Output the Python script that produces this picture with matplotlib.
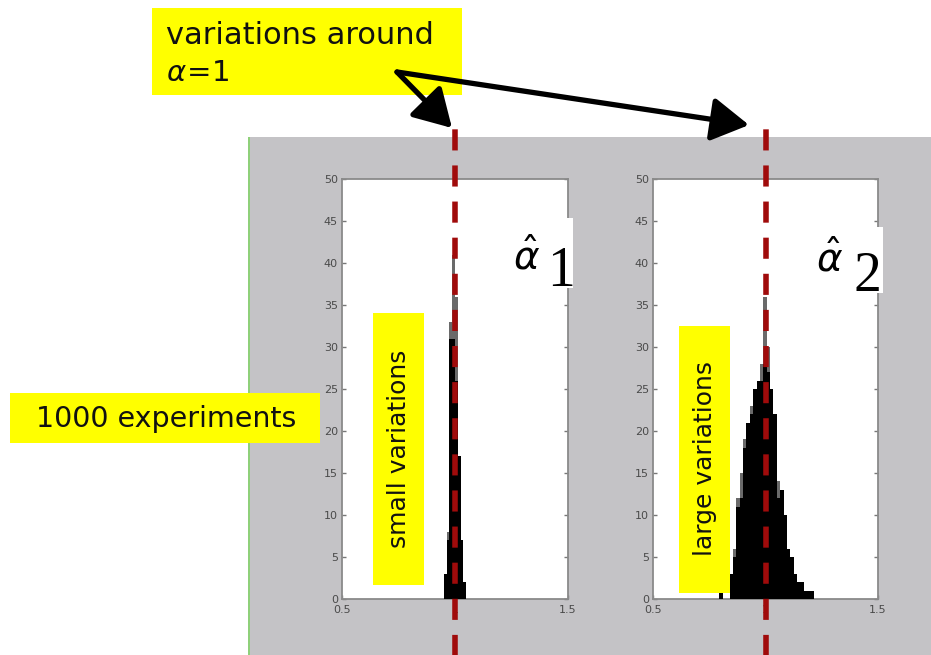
import numpy as np
import matplotlib
matplotlib.use("Agg")
import matplotlib.pyplot as plt
from matplotlib.patches import Rectangle, FancyArrowPatch

# ---------------- data ----------------
yticks = [0, 5, 10, 15, 20, 25, 30, 35, 40, 45, 50]
xticks = [0.5, 1, 1.5]
xtick_labels = ["0.5", "1", "1.5"]
true_value = 1.0

# estimator 1 (small variations): bin edges and counts
left_edges = [0.95, 0.9625, 0.975, 0.9875, 1.0, 1.0125, 1.025, 1.0375, 1.05]
left_core = [3, 7, 31, 31, 26, 17, 7, 2]
left_fringe = [3, 8, 33, 41, 36, 17, 7, 2]

# estimator 2 (large variations)
right_edges = [0.795, 0.81, 0.825, 0.84, 0.855, 0.87, 0.885, 0.90, 0.915, 0.93,
               0.945, 0.96, 0.975, 0.99, 1.005, 1.02, 1.035, 1.05, 1.065, 1.08,
               1.095, 1.11, 1.125, 1.14, 1.155, 1.17, 1.185, 1.20, 1.215]
right_core = [1, 0, 0, 3, 5, 11, 12, 18, 21, 22, 25, 26, 26, 28, 27, 25, 22,
              12, 13, 10, 6, 5, 3, 2, 2, 1, 1, 1]
right_fringe = [1, 0, 0, 3, 6, 12, 15, 19, 21, 23, 25, 26, 28, 36, 30, 25, 22,
                14, 13, 10, 6, 5, 3, 2, 2, 1, 1, 1]

W, H = 931, 655
fig = plt.figure(figsize=(W / 100, H / 100), dpi=100)
fig.patch.set_facecolor("white")

# background layer (pixel coords)
bg = fig.add_axes([0, 0, 1, 1], zorder=-5)
bg.set_xlim(0, W)
bg.set_ylim(H, 0)
bg.axis("off")
bg.add_patch(Rectangle((249, 137), W - 249, H - 137, facecolor="#c4c3c6",
                       edgecolor="none"))
bg.add_patch(Rectangle((248, 137), 2, H - 137, facecolor="#8fd07a",
                       edgecolor="none"))


def make_axes(left_px, right_px, edges, core, fringe):
    ax = fig.add_axes([left_px / W, (H - 599) / H, (right_px - left_px) / W, 420 / H],
                      zorder=1)
    ax.set_facecolor("white")
    e = np.array(edges)
    widths = np.diff(e)
    ax.bar(e[:-1], fringe, width=widths, align="edge", color="#6a6a6a",
           edgecolor="none", zorder=2)
    ax.bar(e[:-1], core, width=widths, align="edge", color="black",
           edgecolor="none", zorder=3)
    ax.axvline(true_value, ymin=-0.135, ymax=1.125, clip_on=False,
               color="#a00b0b", lw=4, dashes=(3.8, 2.7), zorder=5)
    ax.set_xlim(0.5, 1.5)
    ax.set_ylim(0, 50)
    ax.set_yticks(yticks)
    ax.set_xticks(xticks)
    ax.set_xticklabels(xtick_labels)
    ax.tick_params(direction="in", length=3, width=1, colors="#777777",
                   labelcolor="#4a4a4a", labelsize=8, right=True, top=False)
    ax.tick_params(axis="y", pad=3)
    ax.tick_params(axis="x", pad=4)
    for s in ax.spines.values():
        s.set_color("#8a8a8a")
        s.set_linewidth(1.3)
    return ax


ax1 = make_axes(342, 568, left_edges, left_core, left_fringe)
ax2 = make_axes(653, 878, right_edges, right_core, right_fringe)

# overlay in pixel coordinates for annotations
ov = fig.add_axes([0, 0, 1, 1], facecolor="none", zorder=10)
ov.set_xlim(0, W)
ov.set_ylim(H, 0)
ov.axis("off")

YEL = "#ffff00"


def ybox(x0, y0, x1, y1, color=YEL):
    ov.add_patch(Rectangle((x0, y0), x1 - x0, y1 - y0, facecolor=color,
                           edgecolor="none", zorder=1))


# top box
ybox(152, 8, 462, 95)
ov.text(166, 35, "variations around", fontsize=22, color="#111111",
        va="center", ha="left", family="DejaVu Sans")
ov.text(166, 73, r"$\alpha\!=\!1$", fontsize=21, color="#111111",
        va="center", ha="left")

# 1000 experiments
ybox(10, 393, 320, 443)
ov.text(166, 419, "1000 experiments", fontsize=20.5, color="#111111",
        va="center", ha="center", family="DejaVu Sans")

# vertical labels
ybox(373, 313, 424, 585)
ov.text(399, 449, "small variations", fontsize=18, color="#111111",
        va="center", ha="center", rotation=90)
ybox(679, 326, 730, 593)
ov.text(705, 459, "large variations", fontsize=18, color="#111111",
        va="center", ha="center", rotation=90)

# estimator labels
ybox(500, 218, 573, 288, color="white")
ov.text(527, 269, r"$\hat{\alpha}$", fontsize=28, color="black",
        ha="center", va="baseline")
ov.text(561, 286, "1", fontsize=40, color="black", ha="center", va="baseline",
        family="Liberation Serif")
ybox(805, 227, 883, 293, color="white")
ov.text(830, 271, r"$\hat{\alpha}$", fontsize=28, color="black",
        ha="center", va="baseline")
ov.text(867, 291, "2", fontsize=40, color="black", ha="center", va="baseline",
        family="Liberation Serif")

# arrows
for tip in [(452, 128), (749, 125)]:
    ov.add_patch(FancyArrowPatch((397, 72), tip, arrowstyle="-|>,head_length=12,head_width=7",
                                 mutation_scale=1.9, lw=3.8, color="black",
                                 shrinkA=0, shrinkB=0, zorder=6))

fig.savefig("out.png", dpi=100)
